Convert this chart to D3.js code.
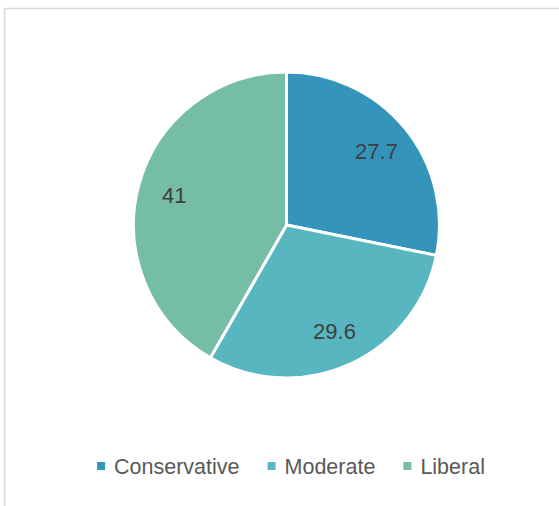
<!DOCTYPE html>
<html><head><meta charset="utf-8">
<script src="https://cdn.jsdelivr.net/npm/d3@7"></script>
<style>html,body{margin:0;padding:0;background:#fff;}svg{display:block;}</style>
</head><body>
<script>
const categories = ["Conservative", "Moderate", "Liberal"];
const values = [27.7, 29.6, 41];
const labels = ["27.7", "29.6", "41"];
const colors = ["#3494BA", "#58B6C0", "#75BDA7"];

const W = 559, H = 506;
const svg = d3.select("body").append("svg").attr("width", W).attr("height", H);

// chart border (extends past window right/bottom)
svg.append("rect").attr("x", 4.5).attr("y", 8.5).attr("width", 600).attr("height", 600)
  .attr("fill", "none").attr("stroke", "#d9d9d9").attr("stroke-width", 1.5);

const cx = 286.5, cy = 225, r = 153;
const data = categories.map((c, i) => ({cat: c, value: values[i], label: labels[i], color: colors[i]}));
const pie = d3.pie().value(d => d.value).sort(null);
const arcs = pie(data);
const arc = d3.arc().innerRadius(0).outerRadius(r);
const labelArc = d3.arc().innerRadius(r * 0.76).outerRadius(r * 0.76);

const g = svg.append("g").attr("transform", `translate(${cx},${cy})`);
g.selectAll("path").data(arcs).join("path")
  .attr("d", arc).attr("fill", d => d.data.color)
  .attr("stroke", "#fff").attr("stroke-width", 3).attr("stroke-linejoin", "round");

g.selectAll("text").data(arcs).join("text")
  .attr("transform", d => `translate(${labelArc.centroid(d)})`)
  .attr("text-anchor", "middle").attr("dy", "0.35em")
  .attr("font-family", "'Liberation Sans', Arial, sans-serif").attr("font-size", 22)
  .attr("fill", "#404040").text(d => d.data.label);

// legend
const leg = svg.append("g");
const items = leg.selectAll("g").data(data).join("g");
items.append("rect").attr("width", 8).attr("height", 8).attr("y", -4).attr("fill", d => d.color);
items.append("text").attr("x", 17).attr("dy", "0.35em")
  .attr("font-family", "'Liberation Sans', Arial, sans-serif").attr("font-size", 21.5)
  .attr("fill", "#595959").text(d => d.cat);
let x = 0;
items.each(function() {
  const el = d3.select(this);
  el.attr("transform", `translate(${x},0)`);
  x += 17 + el.select("text").node().getComputedTextLength() + 28;
});
const total = x - 28;
leg.attr("transform", `translate(${291 - total / 2},466)`);
</script>
</body></html>
